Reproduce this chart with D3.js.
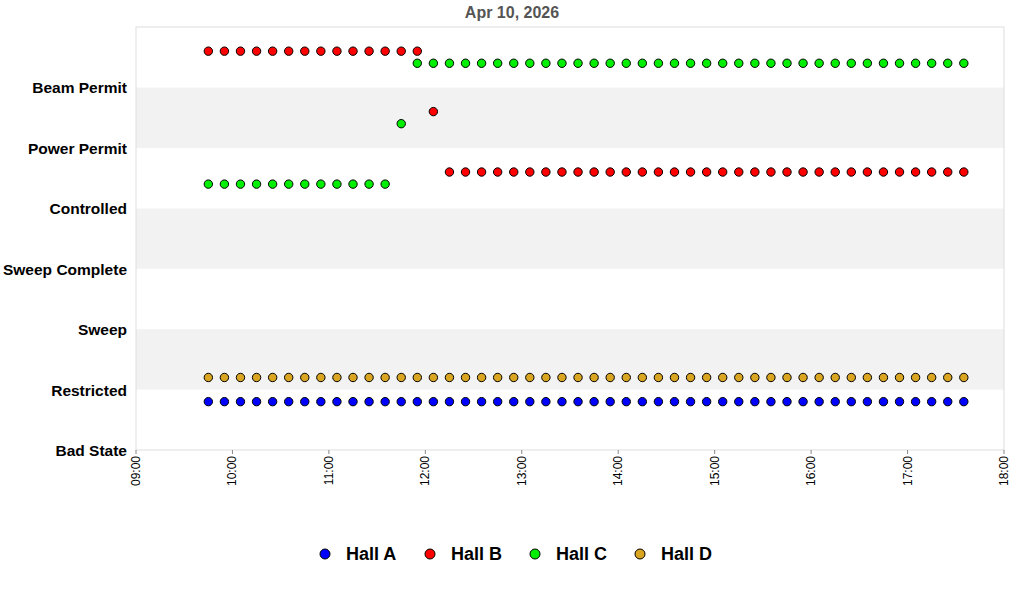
<!DOCTYPE html>
<html><head><meta charset="utf-8">
<script src="https://cdn.jsdelivr.net/npm/d3@7"></script>
<style>body{margin:0;background:#fff}text{font-family:"Liberation Sans",Arial,sans-serif}</style>
</head><body><svg id="c" width="1024" height="600"></svg>
<script>
const states = ["Bad State","Restricted","Sweep","Sweep Complete","Controlled","Power Permit","Beam Permit"];
const halls = ["Hall A","Hall B","Hall C","Hall D"];
const colors = ["#0000ff","#ff0000","#00ee00","#daa520"];
const offsets = [-0.2,0.6,0.4,0.2];
const startTime = "09:45", stepMin = 10, nPts = 48;
// state index per sample for each hall
const hallA = Array(48).fill(1);
const hallD = Array(48).fill(1);
const hallB = [...Array(14).fill(6), 5, ...Array(33).fill(4)];
const hallC = [...Array(12).fill(4), 5, ...Array(35).fill(6)];
const series = [hallA, hallB, hallC, hallD];
const xTicks = ["09:00","10:00","11:00","12:00","13:00","14:00","15:00","16:00","17:00","18:00"];

const svg = d3.select("#c");
const L=136,R=1004,T=27,B=450;
const pt = d3.timeParse("%H:%M");
const x = d3.scaleTime().domain([pt("09:00"),pt("18:00")]).range([L,R]);
const y = d3.scaleLinear().domain([0,7]).range([B,T]);
for(let i=0;i<7;i++){
  svg.append("rect").attr("x",L).attr("width",R-L).attr("y",y(i+1)).attr("height",y(i)-y(i+1))
   .attr("fill",(i%2==1)?"#f2f2f2":"#fff");
}
svg.append("rect").attr("x",L).attr("y",T).attr("width",R-L).attr("height",B-T).attr("fill","none").attr("stroke","#ddd");
states.forEach((s,i)=>svg.append("text").attr("x",127).attr("y",y(i)+6).attr("text-anchor","end")
  .attr("font-size",15.5).attr("font-weight","bold").text(s));
xTicks.forEach(t=>{
  const xx=x(pt(t));
  svg.append("line").attr("x1",xx).attr("x2",xx).attr("y1",B).attr("y2",B+4).attr("stroke","#888");
  svg.append("text").attr("transform",`translate(${xx+4},${B+6}) rotate(-90)`).attr("text-anchor","end")
   .attr("font-size",12).text(t);
});
svg.append("text").attr("x",512).attr("y",18).attr("text-anchor","middle").attr("font-size",16)
  .attr("font-weight","bold").attr("fill","#555").text("Apr 10, 2026");
const t0 = pt(startTime);
series.forEach((arr,h)=>{
  svg.append("g").selectAll("circle").data(arr).join("circle")
   .attr("cx",(d,i)=>x(new Date(t0.getTime()+i*stepMin*60000)))
   .attr("cy",d=>y(d+offsets[h])).attr("r",4.2)
   .attr("fill",colors[h]).attr("stroke","#000").attr("stroke-width",1);
});
const lx=[325,430,535,640];
halls.forEach((hn,i)=>{
  svg.append("circle").attr("cx",lx[i]).attr("cy",554).attr("r",5).attr("fill",colors[i]).attr("stroke","#000");
  svg.append("text").attr("x",lx[i]+21).attr("y",560).attr("font-size",18).attr("font-weight","bold").text(hn);
});
</script></body></html>
